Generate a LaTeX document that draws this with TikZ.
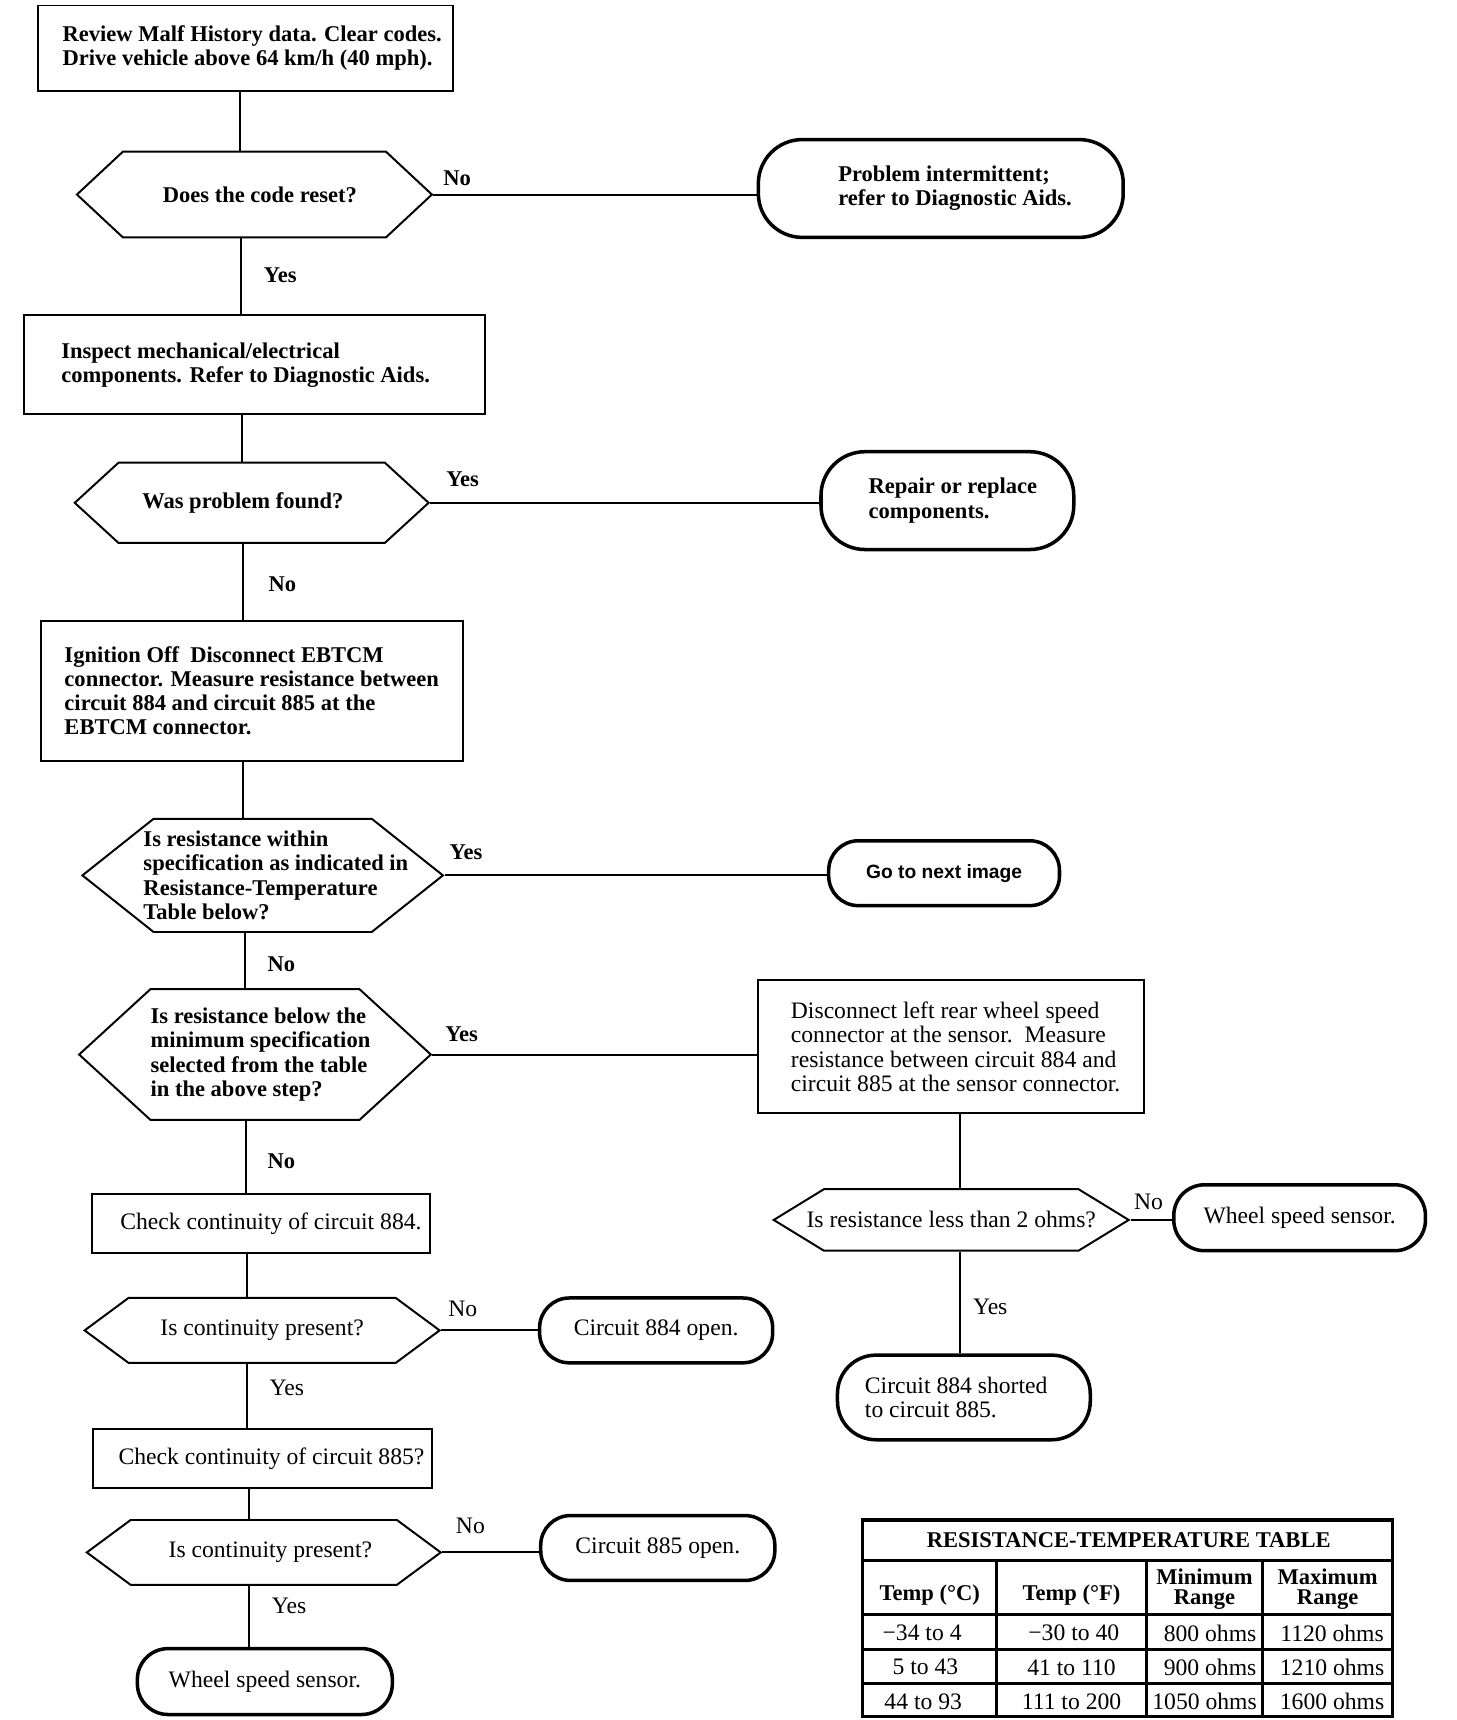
\documentclass[tikz,border=0pt]{standalone}
\usepackage{fontspec}
\setmainfont{Liberation Serif}
\newfontfamily\sansfnt{Liberation Sans}
\usetikzlibrary{shapes.symbols,calc}
\newcommand\lpad[1]{\hspace*{#1}}
\begin{document}
\begin{tikzpicture}[x=1pt,y=-1pt,
  every node/.style={font=\fontsize{20.5}{22}\selectfont\bfseries},
  lowfont/.style={font=\fontsize{21.5}{22}\selectfont},
  procbox/.style={draw, line width=1.8pt, rectangle, align=left, inner sep=0pt},
  hexq/.style={draw, line width=1.8pt, signal, signal to=east and west, align=left, inner ysep=0pt, inner xsep=-60pt},
  termoval/.style={draw, line width=3.2pt, rectangle, align=left, inner sep=0pt},
  conn/.style={line width=1.8pt},
  lbl/.style={inner sep=0pt},
  tline/.style={line width=3pt},
  thead/.style={font=\fontsize{20.5}{18}\selectfont\bfseries, align=center, inner sep=0pt},
  tcell/.style={font=\fontsize{21.5}{22}\selectfont, inner sep=0pt},
]
\useasboundingbox (0,0) rectangle (1325,1565);

% ---------- nodes ----------
\node[procbox, minimum width=377pt, minimum height=78pt] (b1) at (223.5,44)
  {\lpad{12pt}Review Malf History data. Clear codes.\\\lpad{12pt}Drive vehicle above 64 km/h (40 mph).};
\node[hexq, minimum width=323pt, minimum height=78pt, signal pointer angle=86] (d1) at (231.5,177)
  {\lpad{10pt}Does the code reset?};
\node[termoval, minimum width=332pt, minimum height=89pt, rounded corners=40pt] (o1) at (856,171.5)
  {\lpad{26pt}Problem intermittent;\\\lpad{26pt}refer to Diagnostic Aids.};
\node[procbox, minimum width=419pt, minimum height=90pt] (b2) at (231.5,332)
  {Inspect mechanical/electrical\\components. Refer to Diagnostic Aids.\lpad{16pt}};
\node[hexq, minimum width=322pt, minimum height=73pt, signal pointer angle=85] (d2) at (229,457.5)
  {Was problem found?\lpad{16pt}};
\node[termoval, minimum width=230pt, minimum height=89pt, rounded corners=40pt] (o2) at (862,455.5)
  {\lpad{10pt}Repair or replace\\\lpad{10pt}components.};
\node[procbox, minimum width=384pt, minimum height=127pt] (b3) at (229,628.5)
  {Ignition Off\ \ Disconnect EBTCM\\connector. Measure resistance between\\circuit 884 and circuit 885 at the\\EBTCM connector.};
\node[hexq, minimum width=328pt, minimum height=103pt, signal pointer angle=77] (d3) at (239,796.5)
  {\lpad{24pt}Is resistance within\\\lpad{24pt}specification as indicated in\\\lpad{24pt}Resistance-Temperature\\\lpad{24pt}Table below?};
\node[termoval, minimum width=210pt, minimum height=59pt, rounded corners=27pt,
      font=\sansfnt\fontsize{17.5}{20}\selectfont\bfseries] (o3) at (859,794.5)
  {Go to next image};
\node[hexq, minimum width=320pt, minimum height=119pt, signal pointer angle=85] (d4) at (232,959.5)
  {\lpad{10pt}Is resistance below the\\\lpad{10pt}minimum specification\\\lpad{10pt}selected from the table\\\lpad{10pt}in the above step?};
\node[procbox, lowfont, minimum width=351pt, minimum height=121pt] (b4) at (865.5,952.5)
  {\lpad{8pt}Disconnect left rear wheel speed\\\lpad{8pt}connector at the sensor.\ \ Measure\\\lpad{8pt}resistance between circuit 884 and\\\lpad{8pt}circuit 885 at the sensor connector.};
\node[hexq, lowfont, minimum width=323pt, minimum height=56pt, signal pointer angle=63] (d5) at (865.5,1110)
  {Is resistance less than 2 ohms?};
\node[termoval, lowfont, minimum width=229pt, minimum height=60pt, rounded corners=28pt] (o5) at (1182.5,1108)
  {Wheel speed sensor.};
\node[termoval, lowfont, minimum width=230pt, minimum height=77pt, rounded corners=35pt] (o6) at (877,1271.5)
  {Circuit 884 shorted\lpad{14pt}\\to circuit 885.};
\node[procbox, lowfont, minimum width=307pt, minimum height=54pt] (b5) at (237.5,1113)
  {\lpad{18pt}Check continuity of circuit 884.};
\node[hexq, lowfont, minimum width=323pt, minimum height=59pt, signal pointer angle=73] (d6) at (238.5,1210.5)
  {Is continuity present?};
\node[termoval, lowfont, minimum width=212pt, minimum height=59pt, rounded corners=27pt] (o7) at (597,1210.5)
  {Circuit 884 open.};
\node[procbox, lowfont, minimum width=308pt, minimum height=54pt] (b6) at (239,1327)
  {\lpad{16pt}Check continuity of circuit 885?};
\node[hexq, lowfont, minimum width=322pt, minimum height=59pt, signal pointer angle=73] (d7) at (240,1412.5)
  {\lpad{12pt}Is continuity present?};
\node[termoval, lowfont, minimum width=213pt, minimum height=59pt, rounded corners=27pt] (o8) at (598.5,1408.5)
  {Circuit 885 open.};
\node[termoval, lowfont, minimum width=232pt, minimum height=60pt, rounded corners=28pt] (o9) at (241,1530)
  {Wheel speed sensor.};

% ---------- connectors ----------
\coordinate (x1) at (218,0);
\coordinate (x2) at (219,0);
\coordinate (x3) at (220,0);
\coordinate (x4) at (221,0);
\coordinate (x6) at (223,0);
\coordinate (x7) at (224,0);
\coordinate (x8) at (225,0);
\coordinate (x10) at (227,0);
\coordinate (xr) at (873.5,0);
\draw[conn] (b1.south -| x1) -- (d1.north -| x1);
\draw[conn] (d1.south -| x2) -- (b2.north -| x2);
\draw[conn] (b2.south -| x3) -- (d2.north -| x3);
\draw[conn] (d2.south -| x4) -- (b3.north -| x4);
\draw[conn] (b3.south -| x4) -- (d3.north -| x4);
\draw[conn] (d3.south -| x6) -- (d4.north -| x6);
\draw[conn] (d4.south -| x7) -- (b5.north -| x7);
\draw[conn] (b5.south -| x8) -- (d6.north -| x8);
\draw[conn] (d6.south -| x8) -- (b6.north -| x8);
\draw[conn] (b6.south -| x10) -- (d7.north -| x10);
\draw[conn] (d7.south -| x10) -- (o9.north -| x10);
\draw[conn] (b4.south -| xr) -- (d5.north -| xr);
\draw[conn] (d5.south -| xr) -- (o6.north -| xr);

\draw[conn] (d1.east) -- (d1.east -| o1.west);
\draw[conn] (d2.east) -- (d2.east -| o2.west);
\draw[conn] (d3.east) -- (d3.east -| o3.west);
\draw[conn] (d4.east) -- (d4.east -| b4.west);
\draw[conn] (d5.east) -- (d5.east -| o5.west);
\draw[conn] (d6.east) -- (d6.east -| o7.west);
\draw[conn] (d7.east) -- (d7.east -| o8.west);

% ---------- labels ----------
\node[lbl] (l1) at (416,162) {No};
\node[lbl] (l2) at (255,250) {Yes};
\node[lbl] (l3) at (421,436) {Yes};
\node[lbl] (l4) at (257,532) {No};
\node[lbl] (l5) at (424,775) {Yes};
\node[lbl] (l6) at (256,877) {No};
\node[lbl] (l7) at (420,941) {Yes};
\node[lbl] (l8) at (256,1057) {No};
\node[lbl, lowfont] (l9) at (1045,1094) {No};
\node[lbl, lowfont] (l10) at (901,1189) {Yes};
\node[lbl, lowfont] (l11) at (421,1191) {No};
\node[lbl, lowfont] (l12) at (261,1263) {Yes};
\node[lbl, lowfont] (l13) at (428,1388) {No};
\node[lbl, lowfont] (l14) at (263,1461) {Yes};

% ---------- table ----------
\draw[tline] (785,1383) rectangle (1267,1562);
\draw[tline] (785,1420) -- (1267,1420);
\draw[tline] (785,1469) -- (1267,1469);
\draw[tline] (785,1501) -- (1267,1501);
\draw[tline] (785,1532) -- (1267,1532);
\draw[tline] (907,1420) -- (907,1562);
\draw[tline] (1043,1420) -- (1043,1562);
\draw[tline] (1149,1420) -- (1149,1562);
\node[thead] (th) at (1027,1401.5) {RESISTANCE-TEMPERATURE TABLE};
\node[thead] (h1) at (846,1451) {Temp (°C)};
\node[thead] (h2) at (975,1451) {Temp (°F)};
\node[thead] (h3) at (1096,1446) {Minimum\\Range};
\node[thead] (h4) at (1208,1446) {Maximum\\Range};
\node[tcell] (c11) at (839,1486) {−34 to 4};
\node[tcell] (c12) at (977,1486) {−30 to 40};
\node[tcell] (c13) at (1101,1486) {800 ohms};
\node[tcell] (c14) at (1212,1486) {1120 ohms};
\node[tcell] (c21) at (842,1517) {5 to 43};
\node[tcell] (c22) at (975,1517) {41 to 110};
\node[tcell] (c23) at (1101,1517) {900 ohms};
\node[tcell] (c24) at (1212,1517) {1210 ohms};
\node[tcell] (c31) at (840,1548) {44 to 93};
\node[tcell] (c32) at (975,1548) {111 to 200};
\node[tcell] (c33) at (1096,1548) {1050 ohms};
\node[tcell] (c34) at (1212,1548) {1600 ohms};
\end{tikzpicture}
\end{document}
